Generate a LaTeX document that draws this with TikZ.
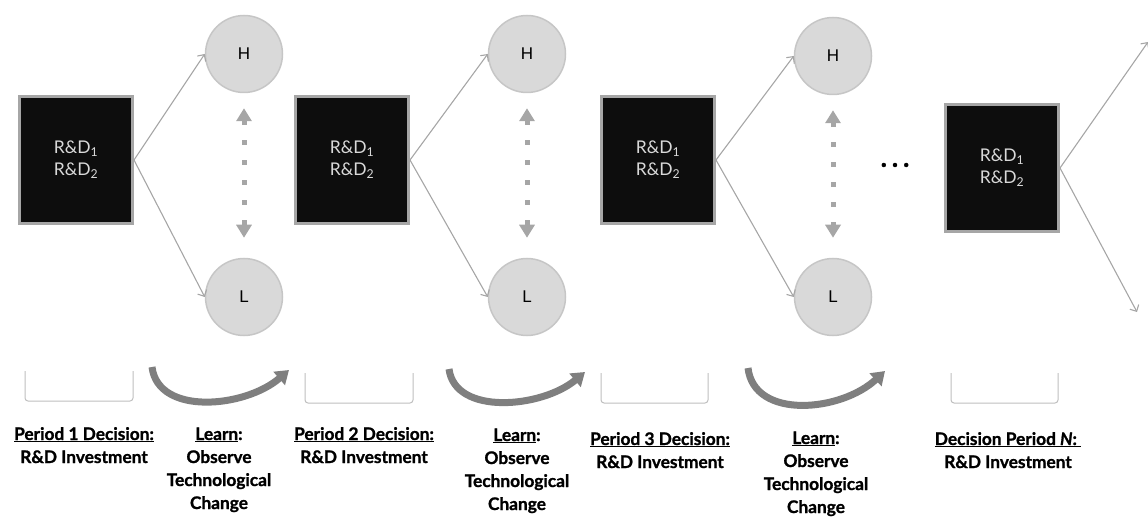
\documentclass[tikz,border=0pt]{standalone}
\usepackage{fontspec}
\setmainfont{Lato}
\newfontfamily\lblfont{Lato}[FakeBold=1.2]
\newfontfamily\circfont{Liberation Sans}
\usetikzlibrary{arrows.meta}
\definecolor{boxfill}{HTML}{0D0D0D}
\definecolor{boxline}{HTML}{A6A6A6}
\definecolor{conn}{HTML}{A6A6A6}
\definecolor{circfill}{HTML}{D9D9D9}
\definecolor{circline}{HTML}{C6C6C6}
\definecolor{curvecol}{HTML}{7F7F7F}
\definecolor{brk}{HTML}{BFBFBF}
\definecolor{boxtext}{HTML}{D9D9D9}
\tikzset{
  rdbox/.style={draw=boxline, line width=3pt, fill=boxfill, minimum width=113pt, minimum height=127pt,
    text=boxtext, align=center, font=\fontsize{17.5}{22}\selectfont, inner sep=0pt},
  state/.style={circle, draw=circline, line width=1.5pt, fill=circfill, minimum size=77pt, inner sep=0pt,
    font=\circfont\fontsize{17}{18}\selectfont},
  branch/.style={draw=conn, line width=1.1pt, -{Straight Barb[length=5pt,width=10pt,line width=1.1pt]}},
  learnlink/.style={draw=conn, line width=5pt, dash pattern=on 5pt off 15pt,
    {Triangle[length=13pt,width=15pt]}-{Triangle[length=13pt,width=15pt]}, shorten <=15pt, shorten >=20pt},
  learncurve/.style={draw=curvecol, line width=7pt, -{Triangle[length=13pt,width=17pt]}},
  bracketline/.style={draw=brk, line width=1pt, rounded corners=3pt},
  lbl/.style={align=center, anchor=base, inner sep=0pt, font=\lblfont\fontsize{17.3}{23}\selectfont\bfseries}
}
\begin{document}
\begin{tikzpicture}[x=1pt,y=-1pt]
\useasboundingbox (0,0) rectangle (1148,518);
% boxes
\node[rdbox] (B1) at (76,160) {R\&D\textsubscript{1}\\R\&D\textsubscript{2}};
\node[rdbox] (B2) at (352,160) {R\&D\textsubscript{1}\\R\&D\textsubscript{2}};
\node[rdbox] (B3) at (658,160) {R\&D\textsubscript{1}\\R\&D\textsubscript{2}};
\node[rdbox] (B4) at (1002,168) {R\&D\textsubscript{1}\\R\&D\textsubscript{2}};
% states
\node[state] (H1) at (244,54) {H};
\node[state] (L1) at (244,297) {L};
\node[state] (H2) at (527,54) {H};
\node[state] (L2) at (527,297) {L};
\node[state] (H3) at (833,56) {H};
\node[state] (L3) at (833,297) {L};
% branches
\draw[branch] (B1.east) -- (H1.west);
\draw[branch] (B1.east) -- (L1.west);
\draw[branch] (B2.east) -- (H2.west);
\draw[branch] (B2.east) -- (L2.west);
\draw[branch] (B3.east) -- (H3.west);
\draw[branch] (B3.east) -- (L3.west);
\coordinate (E1) at (1148,42);
\coordinate (E2) at (1137,312);
\draw[branch] (B4.east) -- (E1);
\draw[branch] (B4.east) -- (E2);
% learning links
\draw[learnlink] (H1.south) -- (L1.north);
\draw[learnlink] (H2.south) -- (L2.north);
\draw[learnlink] (H3.south) -- (L3.north);
% ellipsis
\node[font=\lblfont\fontsize{26}{26}\selectfont\bfseries, inner sep=0pt] (dots) at (895,165) {.\hspace{5pt}.\hspace{5pt}.};
% curved arrows
\draw[learncurve] (152,367) .. controls (158,416) and (245,408) .. (289,370);
\draw[learncurve] (449,369) .. controls (455,416) and (542,408) .. (585,372);
\draw[learncurve] (748,368) .. controls (754,420) and (841,412) .. (885,371);
% brackets
\draw[bracketline] (25,371) -- (25,401) -- (133,401) -- (133,371);
\draw[bracketline] (305,373) -- (305,403) -- (413,403) -- (413,373);
\draw[bracketline] (601,373) -- (601,403) -- (708,403) -- (708,373);
\draw[bracketline] (951,373) -- (951,403) -- (1058,403) -- (1058,373);
% labels (anchor = baseline of last line)
\node[lbl] (P1) at (84,463) {\underline{Period 1 Decision:}\\R\&D Investment};
\node[lbl] (T1) at (219,509) {\underline{Learn}:\\Observe\\Technological\\Change};
\node[lbl] (P2) at (364,463) {\underline{Period 2 Decision:}\\R\&D Investment};
\node[lbl] (T2) at (517,510) {\underline{Learn}:\\Observe\\Technological\\Change};
\node[lbl] (P3) at (660,468) {\underline{Period 3 Decision:}\\R\&D Investment};
\node[lbl] (T3) at (816,513) {\underline{Learn}:\\Observe\\Technological\\Change};
\node[lbl] (PN) at (1008,468) {\underline{Decision Period \textit{N}:\ }\\R\&D Investment};
\end{tikzpicture}
\end{document}
